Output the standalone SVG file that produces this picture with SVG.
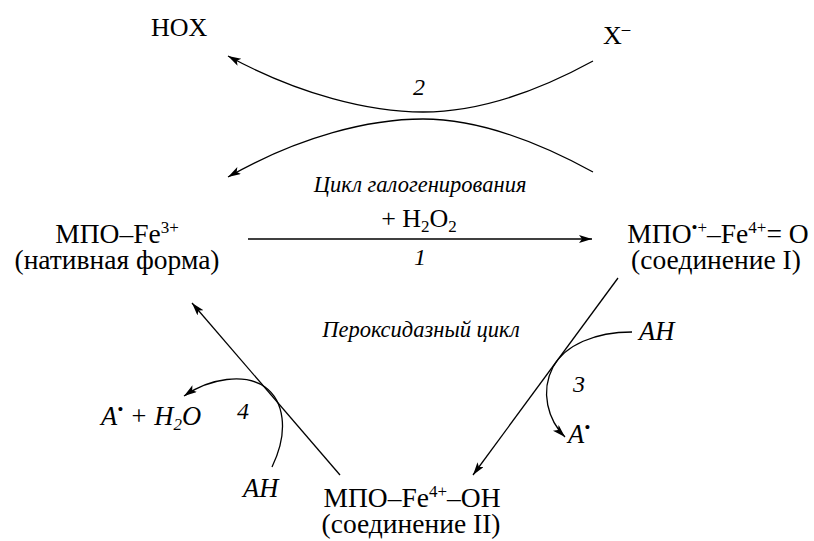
<svg xmlns="http://www.w3.org/2000/svg" width="814" height="541" viewBox="0 0 814 541">
<defs>
<marker id="ah" markerUnits="userSpaceOnUse" markerWidth="14" markerHeight="10" refX="13" refY="4" orient="auto">
<path d="M0,0 L13,4 L0,8 L3,4 z" fill="#000"/>
</marker>
<style>
text{font-family:"Liberation Serif","Times New Roman",serif;fill:#000}
.big{font-size:27.5px}
.mid{font-size:26px}
.it{font-style:italic;font-size:22.5px}
.num{font-style:italic;font-size:24px}
.iv{font-style:italic;font-size:26.5px}
.sup{font-size:17px}
.sub{font-size:17px}
.c{fill:none;stroke:#000;stroke-width:1.3}
</style>
</defs>
<g id="connectors">
<path class="c" d="M248,239 L592,239" marker-end="url(#ah)"/>
<path class="c" d="M593,61 C540,90 480,112 423,112 C370,112 300,95 228,56" marker-end="url(#ah)"/>
<path class="c" d="M593,172 C540,143 480,119 423,119 C370,119 300,136 228,177" marker-end="url(#ah)"/>
<path class="c" d="M618,278 L473,475" marker-end="url(#ah)"/>
<path class="c" d="M340,475 L192,303" marker-end="url(#ah)"/>
<path class="c" d="M632,332 C595,332 565,345 553,367 C540,392 548,420 565,437" marker-end="url(#ah)"/>
<path class="c" d="M272,467 C290,430 283,400 265,387 C245,373 210,378 184,396" marker-end="url(#ah)"/>
</g>
<g id="hox"><text class="mid" x="151" y="36">HOX</text></g>
<g id="x-minus"><text class="mid" x="603" y="44">X<tspan class="sup" dy="-10">–</tspan></text></g>
<g id="native">
<text class="big" x="117" y="243" text-anchor="middle">МПО–Fe<tspan class="sup" dy="-10">3+</tspan></text>
<text class="big" x="117" y="269" text-anchor="middle">(нативная форма)</text>
</g>
<g id="compound1">
<text class="big" x="718" y="243" text-anchor="middle">МПО<tspan class="sup" dy="-10">•+</tspan><tspan dy="10">–Fe</tspan><tspan class="sup" dy="-10">4+</tspan><tspan dy="10">= O</tspan></text>
<text class="big" x="716" y="269" text-anchor="middle">(соединение I)</text>
</g>
<g id="compound2">
<text class="big" x="412" y="507" text-anchor="middle">МПО–Fe<tspan class="sup" dy="-10">4+</tspan><tspan dy="10">–OH</tspan></text>
<text class="big" x="411" y="533" text-anchor="middle">(соединение II)</text>
</g>
<g id="labels">
<text class="num" x="419" y="95" text-anchor="middle">2</text>
<text class="it" x="420" y="192" text-anchor="middle">Цикл галогенирования</text>
<text class="mid" x="419" y="227" text-anchor="middle">+ H<tspan class="sub" dy="5">2</tspan><tspan dy="-5">O</tspan><tspan class="sub" dy="5">2</tspan></text>
<text class="num" x="420" y="265" text-anchor="middle">1</text>
<text class="it" x="421" y="337" text-anchor="middle">Пероксидазный цикл</text>
<text class="iv" x="639" y="340">AH</text>
<text class="num" x="573" y="392">3</text>
<text class="iv" x="568" y="443">A<tspan class="sup" dy="-10">•</tspan></text>
<text class="iv" x="101" y="425">A<tspan class="sup" dy="-10">•</tspan><tspan dy="10"> + H</tspan><tspan class="sub" dy="5">2</tspan><tspan dy="-5">O</tspan></text>
<text class="num" x="237" y="419">4</text>
<text class="iv" x="243" y="497">AH</text>
</g>
</svg>
